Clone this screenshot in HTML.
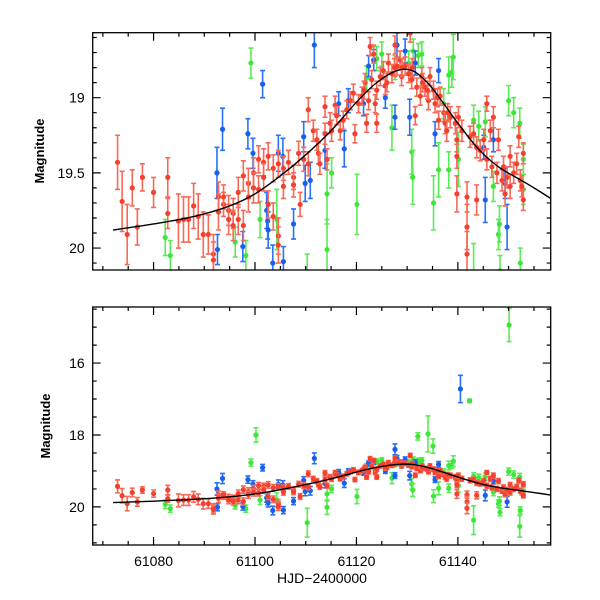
<!DOCTYPE html>
<html><head><meta charset="utf-8"><style>
body{margin:0;background:#fff}
svg{display:block;font-family:"Liberation Sans",sans-serif}
</style></head><body>
<svg id="chart" width="600" height="600" viewBox="0 0 600 600" xmlns="http://www.w3.org/2000/svg">
<defs>
<clipPath id="clipTop"><rect x="93" y="33" width="458" height="237"/></clipPath>
<clipPath id="clipBot"><rect x="93" y="307" width="458" height="238"/></clipPath>
</defs>
<g id="top"></g>
<g id="bot"></g>
<text x="0" y="0" transform="translate(44,151) rotate(-90)" text-anchor="middle" font-size="13" font-weight="bold">Magnitude</text>
<text x="0" y="0" transform="translate(50,426) rotate(-90)" text-anchor="middle" font-size="13" font-weight="bold">Magnitude</text>
<text x="322" y="583" text-anchor="middle" font-size="14">HJD−2400000</text>
</svg>
<script>
const redX=[61072.9,61073.8,61074.8,61075.8,61076.8,61077.8,61080.0,61082.8,61082.8,61084.9,61085.9,61086.9,61087.9,61088.8,61089.8,61090.8,61091.8,61091.8,61092.8,61092.8,61093.8,61093.8,61094.8,61094.8,61095.7,61095.7,61096.7,61096.7,61097.7,61097.7,61098.7,61098.7,61099.7,61099.7,61100.7,61100.7,61101.7,61101.7,61102.6,61102.6,61103.6,61103.6,61104.6,61104.6,61104.6,61105.6,61105.6,61106.6,61107.6,61107.6,61108.6,61108.9,61109.6,61110.5,61110.5,61111.5,61112.2,61112.5,61112.8,61113.8,61113.8,61114.2,61114.8,61115.1,61115.8,61116.1,61116.8,61117.4,61118.1,61118.8,61119.4,61119.7,61120.4,61121.1,61121.7,61122.0,61122.4,61122.7,61123.0,61123.4,61123.7,61124.0,61124.7,61125.3,61125.7,61126.3,61127.0,61127.6,61128.0,61128.6,61128.9,61129.6,61130.3,61130.6,61130.9,61131.6,61131.9,61132.6,61132.9,61133.5,61134.2,61134.5,61135.2,61135.5,61136.2,61136.5,61137.2,61137.5,61137.8,61138.5,61139.5,61139.8,61139.8,61139.8,61140.1,61140.8,61141.8,61141.8,61141.8,61142.4,61143.1,61143.7,61143.7,61144.4,61145.1,61145.7,61145.7,61146.4,61146.7,61147.0,61147.7,61148.0,61148.7,61149.0,61149.3,61149.7,61150.3,61150.3,61151.0,61151.6,61152.0,61152.3,61152.6,61152.9,61152.9,61121.5,61124.0,61126.0,61127.5,61129.0,61131.0,61133.0,61134.0,61136.0,61138.0];
const redY=[19.43,19.69,19.91,19.60,19.86,19.53,19.63,19.53,19.77,19.82,19.81,19.81,19.72,19.79,19.91,19.91,20.04,20.08,19.66,19.76,19.71,19.66,19.75,19.81,19.77,19.85,19.63,19.81,19.52,19.85,19.57,19.66,19.50,19.60,19.41,19.61,19.43,19.53,19.39,19.71,19.47,19.79,19.44,19.92,19.98,19.47,19.59,19.43,19.53,19.58,19.37,19.71,19.41,19.08,19.44,19.22,19.28,19.37,19.44,19.06,19.24,19.41,19.17,19.22,19.05,19.12,19.22,19.15,19.08,19.02,18.97,19.24,19.04,18.99,18.90,19.17,19.02,18.66,18.88,18.71,19.04,19.17,18.86,18.82,18.92,18.77,18.84,18.65,18.79,18.75,18.86,18.79,18.84,18.57,18.88,19.12,18.93,18.99,18.86,18.93,19.02,18.86,18.95,19.04,19.15,18.99,19.10,19.17,19.22,19.13,19.17,19.28,19.39,19.64,19.13,19.22,19.66,19.86,20.04,19.26,19.24,19.33,19.68,19.35,19.28,19.04,19.41,19.22,19.46,19.13,19.50,19.28,19.55,19.46,19.64,19.53,19.59,19.39,19.50,19.44,19.26,19.55,19.59,19.37,19.68,18.95,18.95,18.90,18.80,18.80,18.80,18.90,18.95,19.00,19.10];
const redErr=[0.18,0.20,0.20,0.12,0.12,0.09,0.10,0.13,0.10,0.18,0.15,0.15,0.15,0.15,0.15,0.13,0.13,0.12,0.10,0.12,0.08,0.08,0.10,0.10,0.10,0.10,0.10,0.10,0.10,0.10,0.10,0.10,0.10,0.10,0.09,0.09,0.09,0.09,0.09,0.09,0.09,0.09,0.09,0.12,0.12,0.08,0.08,0.08,0.08,0.08,0.08,0.08,0.08,0.08,0.08,0.07,0.07,0.07,0.07,0.07,0.07,0.07,0.07,0.07,0.06,0.06,0.06,0.06,0.06,0.06,0.06,0.06,0.06,0.06,0.06,0.06,0.06,0.06,0.06,0.06,0.06,0.06,0.06,0.06,0.06,0.06,0.06,0.06,0.06,0.06,0.06,0.06,0.06,0.06,0.06,0.06,0.06,0.06,0.06,0.06,0.06,0.06,0.06,0.06,0.06,0.06,0.06,0.07,0.07,0.07,0.07,0.08,0.08,0.12,0.07,0.07,0.10,0.15,0.15,0.07,0.07,0.07,0.10,0.07,0.07,0.05,0.07,0.07,0.07,0.07,0.07,0.07,0.07,0.07,0.08,0.07,0.08,0.07,0.07,0.07,0.07,0.07,0.07,0.07,0.07,0.06,0.06,0.06,0.06,0.06,0.06,0.06,0.06,0.06,0.06];
const blueX=[61092.5,61092.6,61093.6,61098.6,61099.6,61101.5,61097.6,61102.3,61102.5,61102.6,61103.5,61104.6,61105.5,61105.6,61107.6,61109.6,61109.9,61110.9,61111.7,61113.8,61116.5,61117.6,61118.4,61121.4,61122.4,61123.4,61125.7,61127.6,61128.0,61129.6,61130.5,61131.6,61135.5,61136.2,61145.4,61149.3,61149.7,61145.1,61147.0,61140.5,61127.6];
const blueY=[19.50,20.01,19.21,19.24,19.37,18.91,19.99,19.75,19.82,19.88,20.10,19.37,19.39,20.09,19.84,19.26,19.57,19.55,18.65,19.35,19.04,19.34,19.02,19.04,18.79,18.75,19.00,19.13,18.65,18.69,19.13,18.77,19.24,18.82,19.68,19.57,19.86,19.33,19.28,16.72,18.40];
const blueErr=[0.17,0.10,0.14,0.10,0.10,0.09,0.10,0.12,0.12,0.12,0.12,0.12,0.12,0.10,0.10,0.10,0.12,0.12,0.15,0.12,0.08,0.12,0.08,0.08,0.07,0.07,0.07,0.08,0.08,0.08,0.12,0.08,0.08,0.08,0.15,0.10,0.15,0.08,0.08,0.38,0.15];
const greenX=[61082.3,61083.3,61096.1,61098.2,61099.2,61101.0,61104.3,61114.2,61114.2,61115.1,61120.1,61122.0,61124.0,61125.0,61127.0,61127.6,61130.3,61130.9,61131.1,61131.2,61132.2,61132.9,61135.2,61136.2,61137.2,61138.2,61138.8,61139.1,61138.2,61140.1,61143.1,61144.1,61145.4,61147.0,61148.0,61148.2,61148.3,61150.0,61151.0,61152.2,61152.3,61152.9,61152.9,61150.1,61142.3,61100.2,61132.1,61134.1,61135.1,61110.3,61152.2,61143.1];
const greenY=[19.93,20.05,19.96,20.05,18.77,19.81,19.81,19.64,20.01,19.50,19.71,18.87,18.74,18.71,19.20,18.80,18.77,19.36,19.53,18.69,18.72,18.71,19.70,19.48,19.04,18.85,18.83,18.73,19.48,19.41,19.15,19.19,19.16,19.59,19.91,19.84,20.15,19.02,19.10,19.17,20.10,19.41,19.61,14.94,17.05,18.00,18.04,17.97,18.31,20.44,20.54,20.37];
const greenErr=[0.12,0.10,0.10,0.10,0.10,0.12,0.20,0.20,0.20,0.10,0.20,0.08,0.08,0.08,0.15,0.08,0.08,0.15,0.18,0.08,0.08,0.08,0.18,0.18,0.10,0.12,0.10,0.15,0.12,0.18,0.10,0.10,0.10,0.10,0.10,0.12,0.10,0.10,0.10,0.10,0.10,0.10,0.10,0.46,0.05,0.20,0.10,0.50,0.20,0.40,0.30,0.40];
const curveX=[61072,61080,61088,61095,61100,61105,61110,61115,61120,61124,61128,61131,61134,61137,61140,61144,61148,61152,61155,61158.3];
const curveY=[19.88,19.84,19.79,19.72,19.64,19.52,19.38,19.22,19.03,18.90,18.82,18.82,18.90,19.03,19.17,19.34,19.46,19.54,19.60,19.67];
const xTicks=[61080,61100,61120,61140];
const topTicks=[19,19.5,20];
const botTicks=[16,18,20];

const NS="http://www.w3.org/2000/svg";
const X0=92.7,X1=550.7,D0=61068.0,D1=61158.3;
const xS=d=>X0+(d-D0)/(D1-D0)*(X1-X0);
const panels=[
 {g:document.getElementById('top'),y0:32.7,y1:270,m0:18.568,m1:20.146,clip:'clipTop',major:topTicks,minorStep:0.1,labX:false,name:'top'},
 {g:document.getElementById('bot'),y0:307,y1:545,m0:14.44,m1:21.06,clip:'clipBot',major:botTicks,minorStep:0.5,labX:true,name:'bottom'}];
function el(tag,attrs,parent){const e=document.createElementNS(NS,tag);for(const k in attrs)e.setAttribute(k,attrs[k]);parent.appendChild(e);return e;}
const series=[
 {name:'red',xs:redX,ys:redY,es:redErr,col:'#f4402c',ecol:'#f86a58'},
 {name:'blue',xs:blueX,ys:blueY,es:blueErr,col:'#1a5ef0',ecol:'#2a72f4'},
 {name:'green',xs:greenX,ys:greenY,es:greenErr,col:'#3ee63a',ecol:'#5aec56'}];
const order=[2,1,0];
function smoothPath(pts){
 let d='M'+pts[0][0]+','+pts[0][1];
 for(let i=0;i<pts.length-1;i++){
  const p0=pts[i-1]||pts[i],p1=pts[i],p2=pts[i+1],p3=pts[i+2]||p2;
  const c1x=p1[0]+(p2[0]-p0[0])/6,c1y=p1[1]+(p2[1]-p0[1])/6;
  const c2x=p2[0]-(p3[0]-p1[0])/6,c2y=p2[1]-(p3[1]-p1[1])/6;
  d+=`C${c1x},${c1y} ${c2x},${c2y} ${p2[0]},${p2[1]}`;
 }
 return d;
}
panels.forEach(p=>{
 const yS=m=>p.y0+(m-p.m0)/(p.m1-p.m0)*(p.y1-p.y0);
 const data=el('g',{'clip-path':'url(#'+p.clip+')'},p.g);
 
 
 const sg={};
 [2,1,0].forEach(i=>{
  const s=series[i];
  const g=el('g',{},data);
  
  
  sg[i]=g;
 });
 order.forEach(i=>{
  const s=series[i];
  for(let k=0;k<s.xs.length;k++){
   const cx=xS(s.xs[k]),cy=yS(s.ys[k]);
   const ya=yS(s.ys[k]-s.es[k]),yb=yS(s.ys[k]+s.es[k]);
   const e=el('path',{d:`M${cx},${ya}V${yb}M${cx-2.5},${ya}h5M${cx-2.5},${yb}h5`,stroke:s.ecol,'stroke-width':1.6,fill:'none'},sg[i]);
   
   
   const c=el('circle',{cx:cx,cy:cy,r:2.6,fill:s.col},sg[i]);
   
   
  }
 });
 const pts=curveX.map((x,i)=>[xS(x),yS(curveY[i])]);
 const cv=el('path',{d:smoothPath(pts),stroke:'#000','stroke-width':1.4,fill:'none'},data);
 
 
 const fr=el('rect',{x:X0,y:p.y0,width:X1-X0,height:p.y1-p.y0,fill:'none',stroke:'#000','stroke-width':1.3},p.g);
 
 
 let t='';
 for(let dd=61070;dd<=61158;dd+=5){
  const x=xS(dd);const L=(dd%20===0)?8:4;
  t+=`M${x},${p.y1}v${-L}M${x},${p.y0}v${L}`;
 }
 for(let m=Math.ceil(p.m0/p.minorStep)*p.minorStep;m<=p.m1;m+=p.minorStep){
  const mm=Math.round(m*100)/100;const y=yS(mm);
  const L=p.major.includes(mm)?8:4;
  t+=`M${X0},${y}h${L}M${X1},${y}h${-L}`;
 }
 const tk=el('path',{d:t,stroke:'#000','stroke-width':1.2,fill:'none'},p.g);
 
 
 p.major.forEach(m=>{
  const tx=el('text',{x:X0-8,y:yS(m)+5,'text-anchor':'end','font-size':14},p.g);
  tx.textContent=m;
  
  
 });
 if(p.labX){xTicks.forEach(v=>{
  const tx=el('text',{x:xS(v),y:p.y1+21,'text-anchor':'middle','font-size':14},p.g);
  tx.textContent=v;
  
  
 });}
});
</script>
</body></html>
